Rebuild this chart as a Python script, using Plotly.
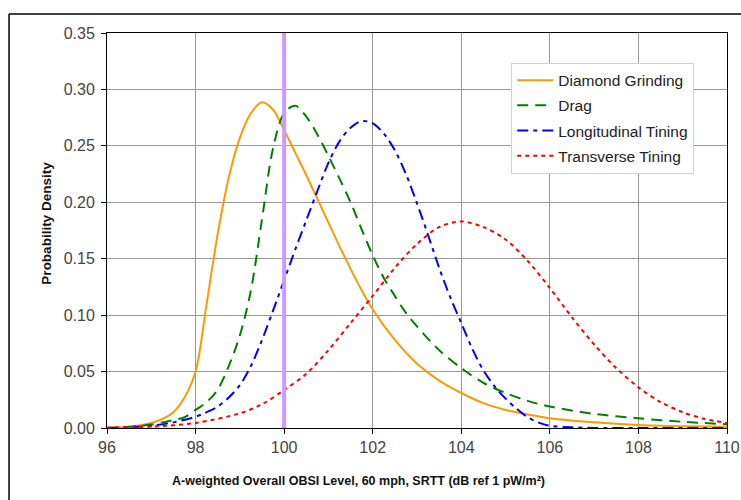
import plotly.graph_objects as go

# ---- data ----
dg_x = [96, 96.25, 96.5, 96.75, 97, 97.25, 97.5, 97.75, 98, 98.25, 98.5, 98.75, 99, 99.25, 99.5,
        99.75, 100, 100.25, 100.5, 100.75, 101, 101.25, 101.5, 101.75, 102, 102.5, 103, 103.5, 104,
        104.5, 105, 105.5, 106, 107, 108, 109, 110]
dg_y = [0.0, 0.0005, 0.0012, 0.0025, 0.0045, 0.008, 0.014, 0.027, 0.05, 0.11, 0.172, 0.222,
        0.257, 0.279, 0.2886, 0.282, 0.264, 0.244, 0.224, 0.203, 0.182, 0.161, 0.141, 0.122, 0.105,
        0.078, 0.057, 0.042, 0.031, 0.022, 0.016, 0.012, 0.0086, 0.005, 0.0027, 0.0016, 0.001]

drag_x = [96, 96.25, 96.5, 96.75, 97, 97.25, 97.5, 97.75, 98, 98.25, 98.5, 98.75, 99, 99.25, 99.5,
          99.75, 100, 100.25, 100.5, 100.75, 101, 101.25, 101.5, 101.75, 102, 102.25, 102.5, 102.75,
          103, 103.5, 104, 104.5, 105, 105.5, 106, 107, 108, 109, 110]
drag_y = [0.0, 0.0005, 0.001, 0.002, 0.003, 0.005, 0.007, 0.0095, 0.016, 0.023, 0.034, 0.055,
          0.082, 0.122, 0.185, 0.248, 0.279, 0.2855, 0.276, 0.26, 0.241, 0.221, 0.20, 0.176, 0.153,
          0.133, 0.117, 0.102, 0.09, 0.069, 0.053, 0.040, 0.031, 0.024, 0.019, 0.0125, 0.0086,
          0.0055, 0.0033]

lt_x = [96, 96.5, 97, 97.5, 98, 98.25, 98.5, 98.75, 99, 99.25, 99.5, 99.75, 100, 100.25, 100.5,
        100.75, 101, 101.25, 101.5, 101.75, 102, 102.25, 102.5, 102.75, 103, 103.25, 103.5, 103.75,
        104, 104.25, 104.5, 104.75, 105, 105.25, 105.5, 105.75, 106, 106.5, 107, 108, 109, 110]
lt_y = [0.0, 0.0007, 0.002, 0.005, 0.010, 0.014, 0.019, 0.027, 0.038, 0.055, 0.078, 0.104, 0.131,
        0.158, 0.184, 0.21, 0.235, 0.254, 0.266, 0.272, 0.27, 0.261, 0.246, 0.225, 0.199, 0.171,
        0.142, 0.116, 0.093, 0.07, 0.051, 0.037, 0.026, 0.017, 0.0095, 0.0048, 0.002, 0.0006,
        0.0001, 0.0, 0.0, 0.0]

tt_x = [96, 97, 98, 99, 99.5, 100, 100.5, 101, 101.5, 102, 102.5, 103, 103.5, 104, 104.5, 105,
        105.5, 106, 106.5, 107, 107.5, 108, 108.5, 109, 109.5, 110]
tt_y = [0.0005, 0.0012, 0.0045, 0.013, 0.021, 0.0337, 0.048, 0.069, 0.093, 0.117, 0.142, 0.163,
        0.178, 0.183, 0.178, 0.167, 0.148, 0.124, 0.098, 0.074, 0.053, 0.036, 0.023, 0.014, 0.008,
        0.0045]

ref_level = 100
y_limits = [0, 0.35]
x_title = "A-weighted Overall OBSI Level, 60 mph, SRTT (dB ref 1 pW/m²)"
y_title = "Probability Density"

names = ["Diamond Grinding", "Drag", "Longitudinal Tining", "Transverse Tining"]
colors = ["#FF9900", "#008000", "#0000FF", "#FF0000"]
dashes = ["solid", "11px,7px", "11px,5px,4px,5px", "4px,4px"]
series = [(dg_x, dg_y), (drag_x, drag_y), (lt_x, lt_y), (tt_x, tt_y)]

FONT = "Liberation Sans, Arial, sans-serif"

fig = go.Figure()
for (xs, ys), n, c, d in zip(series, names, colors, dashes):
    fig.add_trace(go.Scatter(x=xs, y=ys, mode="lines", name=n, legendgroup=n,
                             line=dict(color=c, width=2, dash=d, shape="spline", smoothing=0.9)))

fig.add_trace(go.Scatter(x=[ref_level, ref_level], y=y_limits, mode="lines",
                         line=dict(color="#CC99FF", width=4), showlegend=False, hoverinfo="skip"))

# outer frame (partly cropped in the reference)
fig.add_shape(type="line", xref="paper", yref="paper", x0=-0.158, x1=-0.158, y0=1.048, y1=-0.25,
              line=dict(color="#000000", width=1.5))
fig.add_shape(type="line", xref="paper", yref="paper", x0=-0.158, x1=1.05, y0=1.048, y1=1.048,
              line=dict(color="#000000", width=1.5))

# axis titles (positioned like the reference, centred on the chart area)
fig.add_annotation(text="<b>" + x_title + "</b>", xref="paper", yref="paper", x=0.405, y=-0.134,
                   xanchor="center", yanchor="middle", showarrow=False,
                   font=dict(family=FONT, size=12.5, color="#111111"))
fig.add_annotation(text="<b>" + y_title + "</b>", xref="paper", yref="paper", x=-0.098, y=0.518,
                   xanchor="center", yanchor="middle", showarrow=False, textangle=-90,
                   font=dict(family=FONT, size=13.5, color="#111111"))

fig.update_layout(
    width=741, height=500,
    margin=dict(l=107, r=14, t=33, b=72),
    paper_bgcolor="white", plot_bgcolor="white",
    font=dict(family=FONT, color="#333333"),
    legend=dict(x=0.652, y=0.925, xanchor="left", yanchor="top",
                bgcolor="white", bordercolor="#D0D0D0", borderwidth=1,
                font=dict(family=FONT, size=15.5, color="#222222"),
                tracegroupgap=2, itemwidth=36),
    xaxis=dict(range=[96, 110], dtick=2, tick0=96, showgrid=True, gridcolor="#999999", gridwidth=1,
               showline=True, linecolor="#000000", linewidth=1, mirror=True, automargin=False,
               ticks="outside", ticklen=5, tickcolor="#000000", zeroline=False,
               tickfont=dict(size=16, color="#444444")),
    yaxis=dict(range=y_limits, dtick=0.05, tickformat=".2f", showgrid=True, gridcolor="#999999",
               gridwidth=1, showline=True, linecolor="#000000", linewidth=1, mirror=True,
               automargin=False, ticklabelstandoff=3,
               ticks="outside", ticklen=5, tickcolor="#000000", zeroline=False,
               tickfont=dict(size=16, color="#444444")),
)

fig.write_html("out.html", config={"displayModeBar": False},
               post_script="document.body.style.margin='0px';document.body.style.overflow='hidden';")
